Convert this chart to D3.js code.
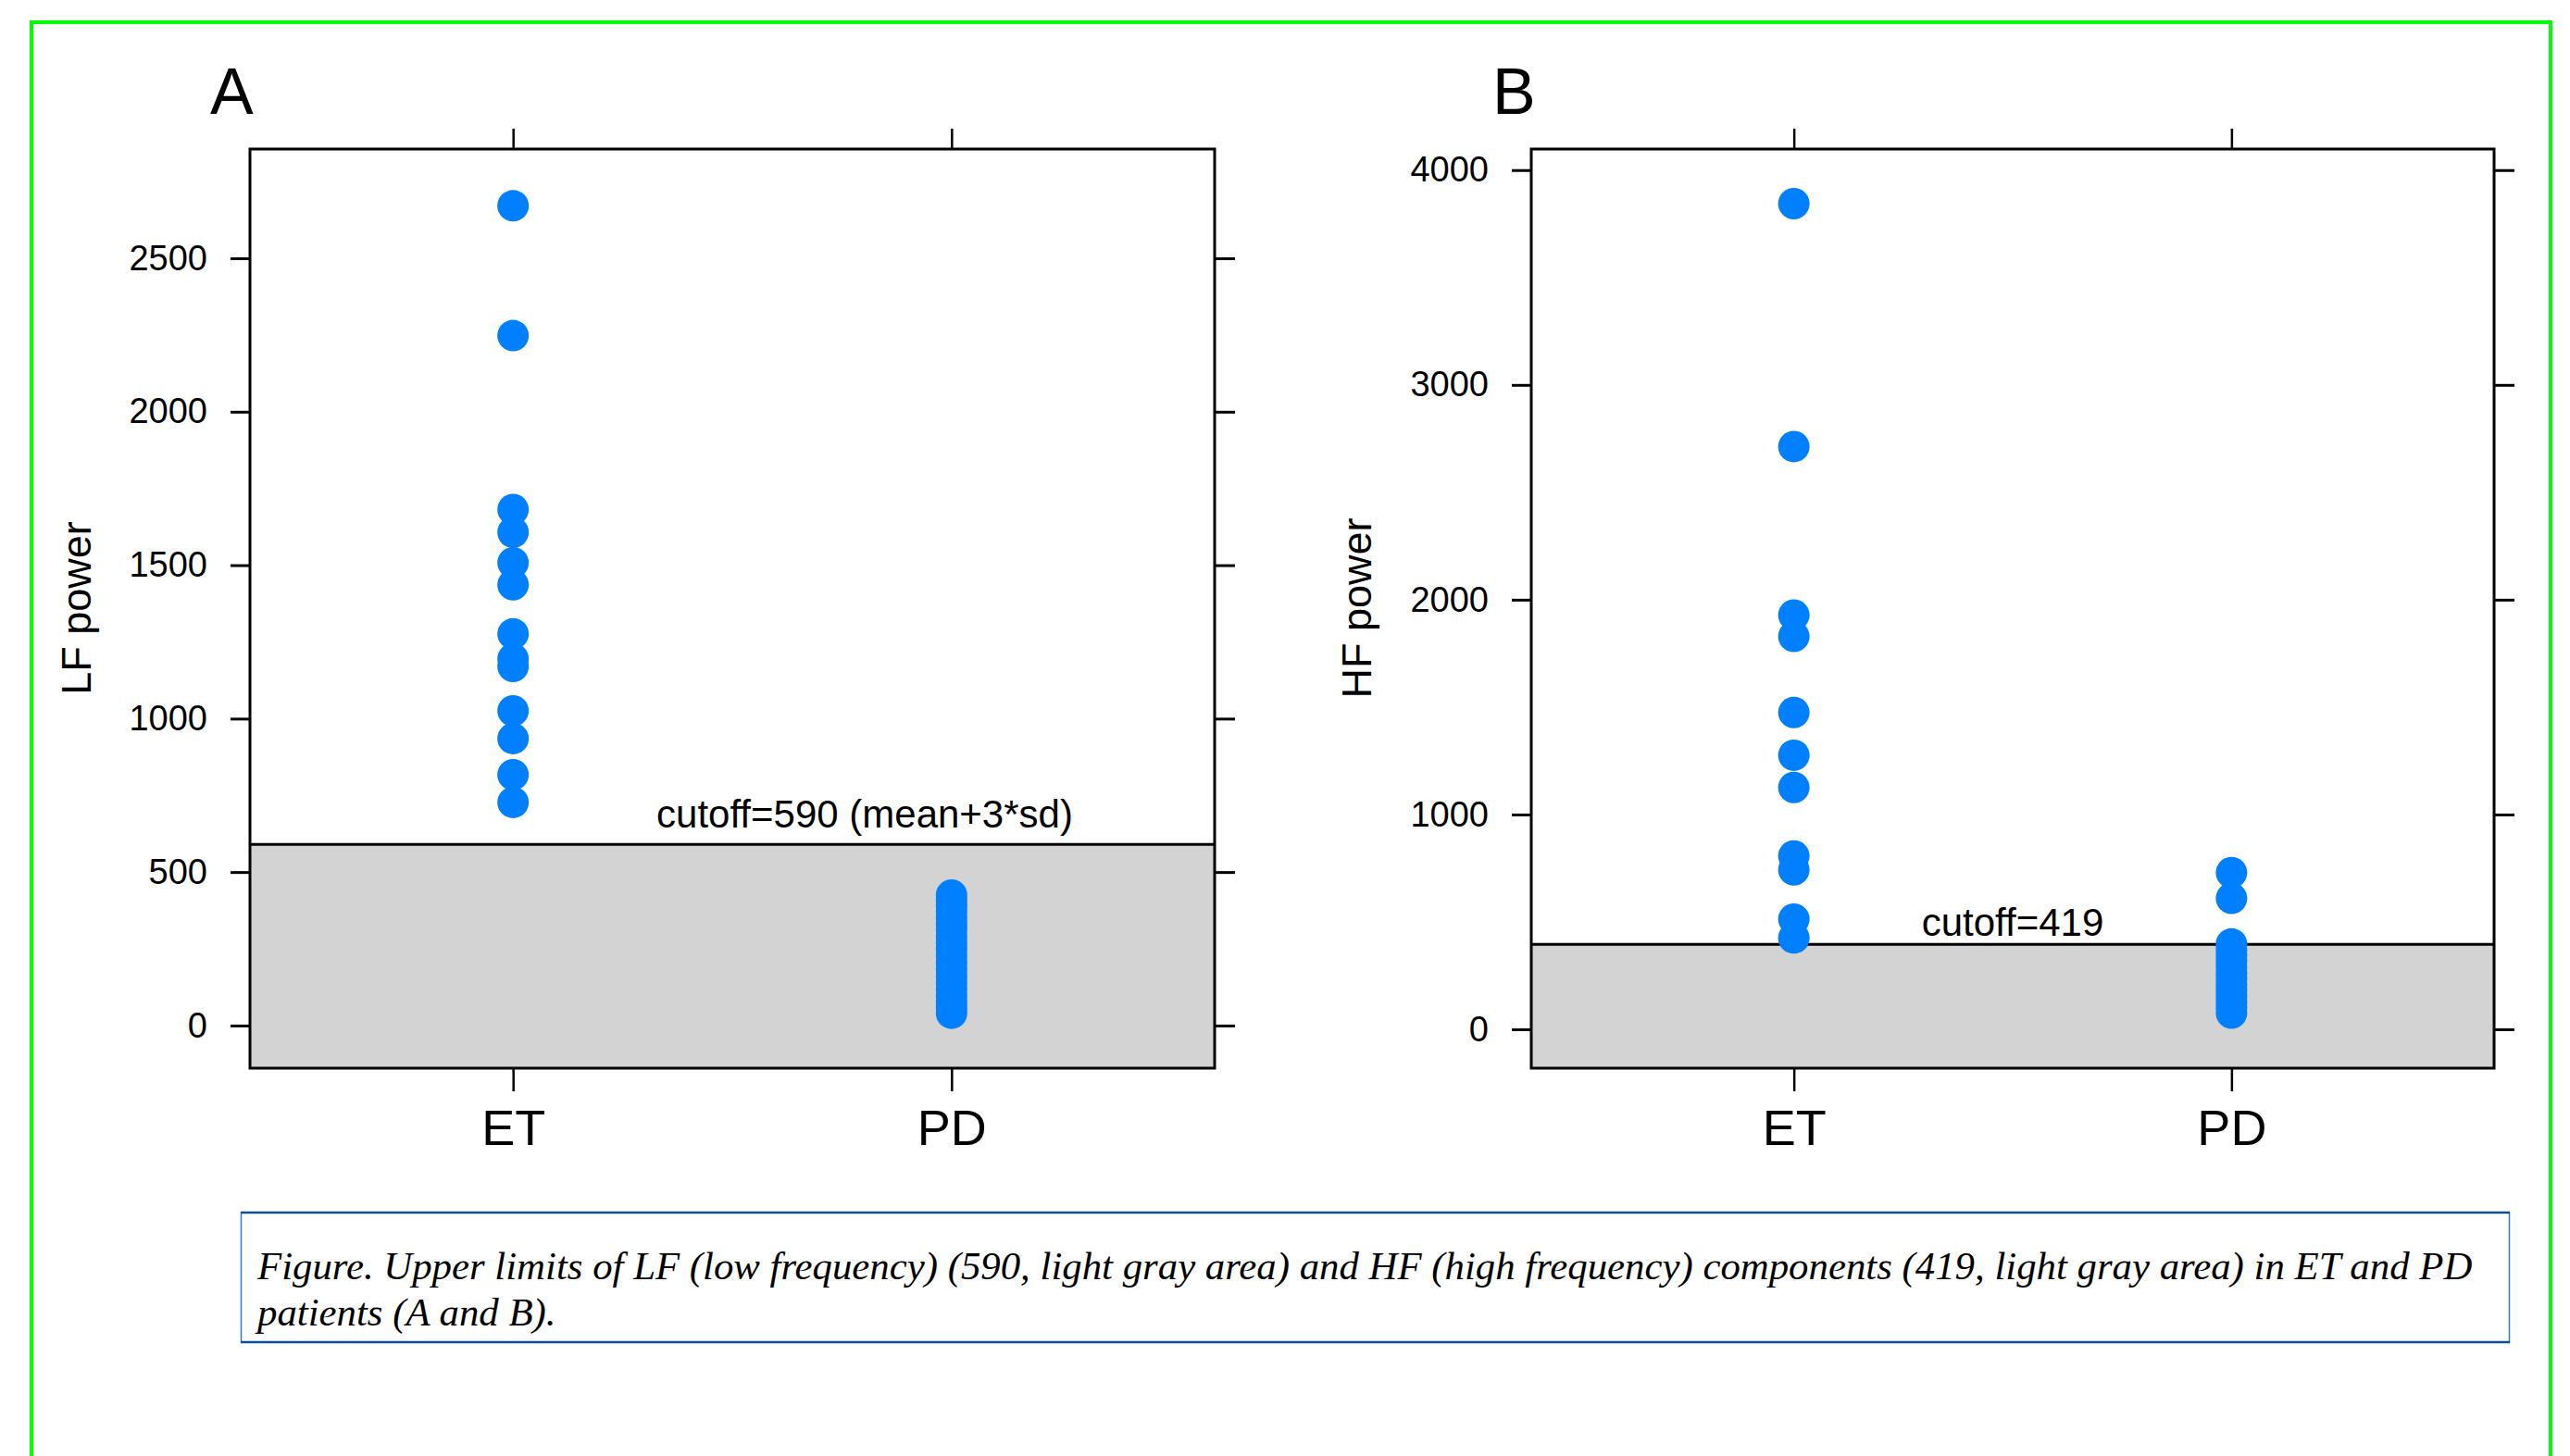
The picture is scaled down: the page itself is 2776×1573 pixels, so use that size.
<!DOCTYPE html>
<html>
<head>
<meta charset="utf-8">
<script src="https://cdn.jsdelivr.net/npm/d3@7"></script>
<style>
  body { margin: 0; background: #fff; }
  svg { display: block; }
  text { font-family: "Liberation Sans", Arial, sans-serif; fill: #000; }
  .caption { font-family: "Liberation Serif", "Times New Roman", serif; font-style: italic; }
</style>
</head>
<body>
<div id="chart"></div>
<script>
// groups on the x axis
var groups = ["ET", "PD"];

// LF power (panel A)
var lfET = [2671, 2248, 1681, 1607, 1508, 1436, 1276, 1195, 1170, 1025, 935, 817, 727];
var lfPD = [425, 408, 391, 372, 350, 331, 312, 290, 268, 249, 226, 204, 183, 161, 140, 118, 97, 75, 56, 40];
var lfTicks = [0, 500, 1000, 1500, 2000, 2500];
var lfCutoff = 590;
var lfCutoffLabel = "cutoff=590 (mean+3*sd)";

// HF power (panel B)
var hfET = [3844, 2713, 1928, 1829, 1475, 1276, 1126, 807, 742, 513, 425];
var hfPD = [729, 610, 397, 372, 345, 318, 290, 262, 236, 208, 181, 155, 128, 102, 75];
var hfTicks = [0, 1000, 2000, 3000, 4000];
var hfCutoff = 395; // line sits here in the figure, label says 419
var hfCutoffLabel = "cutoff=419";

var captionLines = [
  "Figure. Upper limits of LF (low frequency) (590, light gray area) and HF (high frequency) components (419, light gray area) in ET and PD",
  "patients (A and B)."
];

var W = 2776, H = 1573;

var svg = d3
  .select("#chart")
  .append("svg")
  .attr("width", W)
  .attr("height", H);

// green frame (runs off the bottom)
svg
  .append("rect")
  .attr("x", 34)
  .attr("y", 24)
  .attr("width", 2721)
  .attr("height", 1600)
  .attr("fill", "none")
  .attr("stroke", "#00ff00")
  .attr("stroke-width", 4);

function panel(opts) {
  var g = svg.append("g");
  var left = opts.left, right = opts.right, top = 161, bottom = 1154;

  var x = d3.scalePoint().domain(groups).range([left, right]).padding(0.6);
  var y = d3.scaleLinear().domain(opts.domain).range([bottom, top]);

  // gray area below cutoff
  g.append("rect")
    .attr("x", left)
    .attr("y", y(opts.cutoff))
    .attr("width", right - left)
    .attr("height", bottom - y(opts.cutoff))
    .attr("fill", "#d3d3d3");

  g.append("line")
    .attr("x1", left)
    .attr("x2", right)
    .attr("y1", y(opts.cutoff))
    .attr("y2", y(opts.cutoff))
    .attr("stroke", "#000")
    .attr("stroke-width", 3);

  g.append("text")
    .attr("x", opts.labelX)
    .attr("y", y(opts.cutoff) - opts.labelGap)
    .attr("text-anchor", "middle")
    .style("font-size", "42px")
    .text(opts.cutoffLabel);

  // points
  var pts = [];
  opts.et.forEach(function (v) { pts.push({ g: "ET", v: v }); });
  opts.pd.forEach(function (v) { pts.push({ g: "PD", v: v }); });
  g.selectAll("circle")
    .data(pts)
    .enter()
    .append("circle")
    .attr("cx", function (d) { return x(d.g); })
    .attr("cy", function (d) { return y(d.v); })
    .attr("r", 17)
    .attr("fill", "#0080ff");

  // axes
  var yl = g.append("g")
    .attr("transform", "translate(" + left + ",0)")
    .call(d3.axisLeft(y).tickValues(opts.ticks).tickFormat(d3.format("d")).tickSize(21).tickPadding(25));
  var yr = g.append("g")
    .attr("transform", "translate(" + right + ",0)")
    .call(d3.axisRight(y).tickValues(opts.ticks).tickSize(22).tickFormat(""));
  var xt = g.append("g")
    .attr("transform", "translate(0," + top + ")")
    .call(d3.axisTop(x).tickSize(22).tickFormat(""));
  var xb = g.append("g")
    .attr("transform", "translate(0," + bottom + ")")
    .call(d3.axisBottom(x).tickSize(25).tickPadding(20));

  [yl, yr, xt, xb].forEach(function (a) {
    a.select(".domain").remove();
    a.selectAll("line").attr("stroke", "#000").attr("stroke-width", 3);
  });
  yl.selectAll("text").style("font-size", "38px").attr("font-family", null);
  xb.selectAll("text").style("font-size", "54px").attr("font-family", null);
  xt.selectAll("line").attr("stroke-width", 2.5);
  xb.selectAll("line").attr("stroke-width", 2.5);

  // frame
  g.append("rect")
    .attr("x", left)
    .attr("y", top)
    .attr("width", right - left)
    .attr("height", bottom - top)
    .attr("fill", "none")
    .attr("stroke", "#000")
    .attr("stroke-width", 3);

  // panel letter
  g.append("text")
    .attr("x", opts.letterX)
    .attr("y", 123)
    .style("font-size", "70px")
    .text(opts.letter);

  // y title
  g.append("text")
    .attr("transform", "translate(" + opts.titleX + ",657) rotate(-90)")
    .attr("text-anchor", "middle")
    .style("font-size", "45px")
    .text(opts.title);
}

panel({
  left: 270, right: 1312,
  domain: [-139, 2856],
  ticks: lfTicks,
  et: lfET, pd: lfPD,
  cutoff: lfCutoff, cutoffLabel: lfCutoffLabel,
  labelX: 934, labelGap: 18,
  letter: "A", letterX: 227,
  title: "LF power", titleX: 98
});

panel({
  left: 1654, right: 2694,
  domain: [-181, 4098],
  ticks: hfTicks,
  et: hfET, pd: hfPD,
  cutoff: hfCutoff, cutoffLabel: hfCutoffLabel,
  labelX: 2174, labelGap: 9,
  letter: "B", letterX: 1612,
  title: "HF power", titleX: 1481
});

// caption box
var cap = svg.append("g");
cap.append("rect")
  .attr("x", 260.5)
  .attr("y", 1310)
  .attr("width", 2450)
  .attr("height", 140)
  .attr("fill", "#fff")
  .attr("stroke", "#3a78c0")
  .attr("stroke-width", 1.5);
cap.append("line")
  .attr("x1", 260).attr("x2", 2711)
  .attr("y1", 1310).attr("y2", 1310)
  .attr("stroke", "#0b4f9c").attr("stroke-width", 2.5);
cap.append("line")
  .attr("x1", 260).attr("x2", 2711)
  .attr("y1", 1450).attr("y2", 1450)
  .attr("stroke", "#0b4f9c").attr("stroke-width", 2.5);

cap.selectAll("text.caption")
  .data(captionLines)
  .enter()
  .append("text")
  .attr("class", "caption")
  .attr("x", 278)
  .attr("y", function (d, i) { return 1382 + i * 50; })
  .style("font-size", "42.8px")
  .text(function (d) { return d; });
</script>
</body>
</html>
